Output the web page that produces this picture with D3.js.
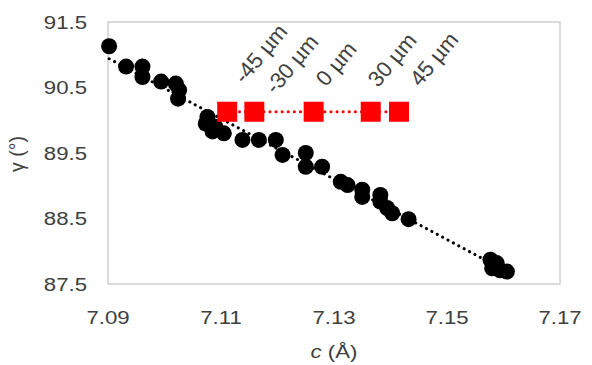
<!DOCTYPE html>
<html><head><meta charset="utf-8">
<script src="https://cdn.jsdelivr.net/npm/d3@7"></script>
<style>body{margin:0;background:#fff}svg{display:block}text{font-family:"Liberation Sans",Arial,sans-serif;fill:#404040}</style>
</head><body><svg id="c" width="592" height="365"></svg>
<script>
// Black series: c (Å) vs gamma (°)
const cVals = [7.0902,7.0932,7.0961,7.0961,7.0994,7.1020,7.1026,7.1024,7.1076,7.1073,7.1085,7.1105,7.1090,7.1138,7.1167,7.1197,7.1209,7.1250,7.1250,7.1279,7.1312,7.1324,7.1350,7.1350,7.1382,7.1382,7.1394,7.1403,7.1432,7.1577,7.1588,7.1594,7.1606,7.1580];
const gVals = [91.13,90.82,90.82,90.66,90.59,90.56,90.46,90.33,90.05,89.95,89.83,89.80,89.90,89.70,89.70,89.70,89.47,89.50,89.29,89.29,89.06,89.01,88.94,88.83,88.86,88.76,88.66,88.58,88.49,87.87,87.82,87.71,87.69,87.74];
// Red series
const redC = [7.1111,7.1159,7.1264,7.1365,7.1415];
const redG = [90.13,90.13,90.13,90.13,90.13];
const redLabels = ["-45 µm","-30 µm","0 µm","30 µm","45 µm"];
const labelC = [7.1141,7.1196,7.1286,7.1378,7.1452];
const labelG = [90.54,90.38,90.50,90.49,90.50];
const xTicks = [7.09,7.11,7.13,7.15,7.17];
const yTicks = [87.5,88.5,89.5,90.5,91.5];

const svg = d3.select("#c");
const x = d3.scaleLinear().domain([7.09,7.17]).range([108,560]);
const y = d3.scaleLinear().domain([87.5,91.5]).range([284,22]);
const SX = 1.2;

// frame
svg.append("rect").attr("x",108).attr("y",22).attr("width",452).attr("height",262)
  .attr("fill","none").attr("stroke","#d0d0d0").attr("stroke-width",1.5);

// tick labels
svg.selectAll(".yt").data(yTicks).enter().append("text")
  .attr("transform",d=>`translate(87,${y(d)+6.5}) scale(${SX},1)`).attr("text-anchor","end").attr("font-size",18.5).text(d=>d.toFixed(1));
svg.selectAll(".xt").data(xTicks).enter().append("text")
  .attr("transform",d=>`translate(${x(d)},324) scale(${SX},1)`).attr("text-anchor","middle").attr("font-size",18.5).text(d=>d.toFixed(2));

// axis titles
svg.append("text").attr("transform","translate(24,154) rotate(-90)").attr("text-anchor","middle").attr("font-size",19.5).text("γ (°)");
const xt = svg.append("text").attr("transform",`translate(334,358) scale(${SX},1)`).attr("text-anchor","middle").attr("font-size",18.5);
xt.append("tspan").attr("font-style","italic").text("c");
xt.append("tspan").text(" (Å)");

// trend line (least squares)
const data = cVals.map((c,i)=>({c,g:gVals[i]}));
const mx = d3.mean(cVals), my = d3.mean(gVals);
const slope = d3.sum(data,d=>(d.c-mx)*(d.g-my))/d3.sum(data,d=>(d.c-mx)**2);
const icpt = my - slope*mx;
const [x0,x1] = d3.extent(cVals);
svg.append("line").attr("x1",x(x0)).attr("y1",y(icpt+slope*x0)).attr("x2",x(x1)).attr("y2",y(icpt+slope*x1))
  .attr("stroke","#000").attr("stroke-width",3).attr("stroke-dasharray","0.1 6").attr("stroke-linecap","round");

// black points
svg.selectAll(".pt").data(data).enter().append("circle")
  .attr("cx",d=>x(d.c)).attr("cy",d=>y(d.g)).attr("r",8).attr("fill","#000");

// red series line
const line = d3.line().x(d=>x(d[0])).y(d=>y(d[1]));
svg.append("path").attr("d",line(redC.map((c,i)=>[c,redG[i]]))).attr("fill","none")
  .attr("stroke","#ff0000").attr("stroke-width",3).attr("stroke-dasharray","0.1 6").attr("stroke-linecap","round");
svg.selectAll(".sq").data(redC).enter().append("rect")
  .attr("x",(d)=>x(d)-10).attr("y",(d,i)=>y(redG[i])-10).attr("width",20).attr("height",20).attr("fill","#ff0000");

// labels
svg.selectAll(".lb").data(redLabels).enter().append("text")
  .attr("transform",(d,i)=>`translate(${x(labelC[i])},${y(labelG[i])}) rotate(-50)`)
  .attr("font-size",22).text(d=>d);
</script></body></html>
